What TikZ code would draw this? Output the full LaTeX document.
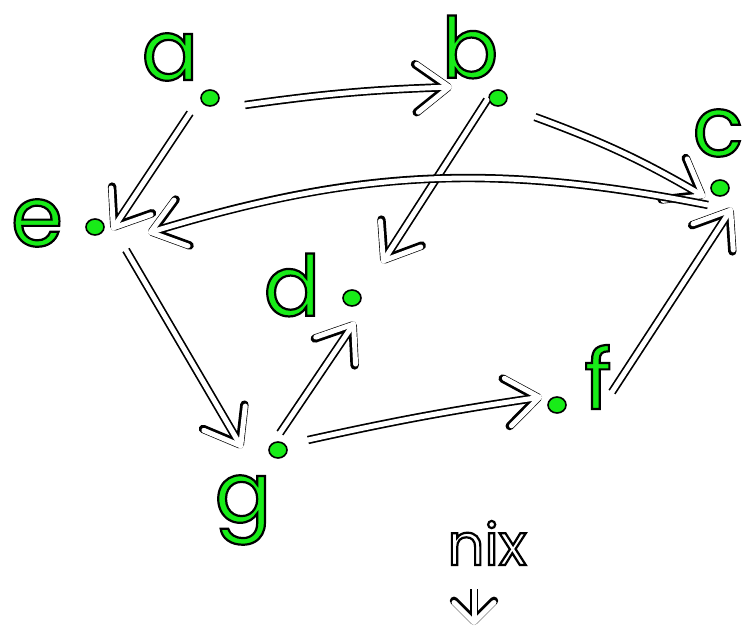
\documentclass[tikz,border=0pt]{standalone}
\usepackage{fontspec}
\setmainfont{Poppins}
\usetikzlibrary{arrows.meta,shapes.geometric}
\definecolor{marker}{RGB}{24,236,24}
% filled letters with a black stroked rim (text render mode 2)
\newcommand{\rimon}{\special{pdf:literal direct 2 Tr 2.2 w 0 0 0 RG}}
\newcommand{\rimoff}{\special{pdf:literal direct 0 Tr}}
\newcommand{\hand}[1]{\textcolor{marker}{\rimon#1\rimoff}}
\newcommand{\chalk}[1]{\textcolor{white}{\rimon#1\rimoff}}

\tikzset{
  dot/.style={ellipse,fill=marker,draw=black,line width=1.6pt,minimum width=18pt,minimum height=16pt,inner sep=0pt},
  letter/.style={font=\fontsize{84}{84}\selectfont,inner sep=0pt},
  barb/.style={-{Straight Barb[length=#1,width=48pt,line cap=round,line join=round]}},
  barb/.default=32pt,
  wire/.style={white,line width=5pt,line cap=round,line join=round,barb,
    preaction={draw=black,line width=8.4pt}},
}

\begin{document}
\begin{tikzpicture}[x=1pt,y=1pt]
  \fill[white] (0,0) rectangle (747,-628);
  \useasboundingbox (0,0) rectangle (747,-628);

  % vertices
  \node[dot] (a) at (210,-98) {};
  \node[dot] (b) at (498,-98) {};
  \node[dot] (c) at (720,-188) {};
  \node[dot] (d) at (352,-298) {};
  \node[dot] (e) at (95,-227) {};
  \node[dot] (f) at (557,-405) {};
  \node[dot] (g) at (278,-450) {};

  % names
  \node[letter] (la) at (170,-57) {\hand{a}};
  \node[letter] (lb) at (470,-47) {\hand{b}};
  \node[letter] (lc) at (718,-133) {\hand{c}};
  \node[letter] (ld) at (292,-285) {\hand{d}};
  \node[letter] (le) at (37,-223) {\hand{e}};
  \node[letter] (lf) at (598,-377) {\hand{f}};
  \node[letter] (lg) at (243,-510) {\hand{g}};

  \node[font=\fontsize{58}{58}\selectfont,inner sep=0pt] (nix) at (487,-543) {\chalk{nix}};
  \coordinate (nixend) at (474,-625);

  % edges
  \draw[wire] ([xshift=35pt,yshift=-7pt]a.center) to[bend left=3] ([xshift=-46pt,yshift=11pt]b.center);
  \draw[wire] ([xshift=-20pt,yshift=-15pt]a.center) -- ([xshift=17pt,yshift=-3pt]e.center);
  \draw[wire] ([xshift=-11pt,yshift=-2pt]b.center) -- ([xshift=30pt,yshift=35pt]d.center);
  \draw[wire] ([xshift=37pt,yshift=-19pt]b.center) to[bend left=5] ([xshift=-15pt,yshift=-9pt]c.center);
  \draw[wire] ([xshift=-12pt,yshift=-17pt]c.center) to[bend right=14] ([xshift=53pt,yshift=-6pt]e.center);
  \draw[wire] ([xshift=31pt,yshift=-23pt]e.center) -- ([xshift=-36pt,yshift=2pt]g.center);
  \draw[wire] ([xshift=2pt,yshift=17pt]g.center) -- ([xshift=3pt,yshift=-24pt]d.center);
  \draw[wire] ([xshift=30pt,yshift=10pt]g.center) to[bend left=2] ([xshift=-15pt,yshift=8pt]f.center);
  \draw[wire] ([xshift=55pt,yshift=13pt]f.center) -- ([xshift=12pt,yshift=-20pt]c.center);
  \draw[wire,-{Straight Barb[length=20pt,width=40pt,line cap=round,line join=round]},
    shorten <=24pt] (nix.south -| nixend) -- (nixend);
\end{tikzpicture}
\end{document}
